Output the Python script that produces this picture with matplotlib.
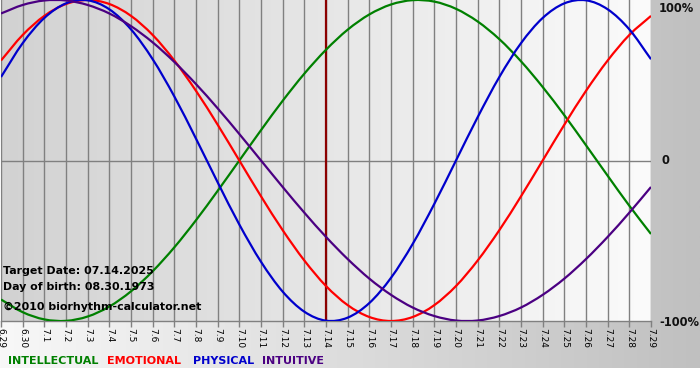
import numpy as np
import matplotlib
matplotlib.use("Agg")
import matplotlib.pyplot as plt
from matplotlib.colors import LinearSegmentedColormap
from matplotlib.path import Path
from matplotlib.patches import PathPatch

# Chart data (one value per day):
day_labels = ['6.29', '6.30'] + ['7.%d' % d for d in range(1, 30)]
target_day = '7.14'

intellectual = [-0.866, -0.945, -0.990, -0.999, -0.972, -0.910, -0.815,
                -0.690, -0.541, -0.372, -0.189, 0.000, 0.189, 0.372, 0.541,
                0.690, 0.815, 0.910, 0.972, 0.999, 0.990, 0.945, 0.866, 0.756,
                0.618, 0.458, 0.282, 0.095, -0.095, -0.282, -0.458]
emotional = [0.623, 0.782, 0.901, 0.975, 1.000, 0.975, 0.901, 0.782, 0.623,
             0.434, 0.223, 0.000, -0.223, -0.434, -0.623, -0.782, -0.901,
             -0.975, -1.000, -0.975, -0.901, -0.782, -0.623, -0.434, -0.223,
             0.000, 0.223, 0.434, 0.623, 0.782, 0.901]
physical = [0.520, 0.731, 0.888, 0.979, 0.998, 0.942, 0.817, 0.631, 0.399,
            0.136, -0.136, -0.399, -0.631, -0.817, -0.942, -0.998, -0.979,
            -0.888, -0.731, -0.520, -0.270, 0.000, 0.270, 0.520, 0.731, 0.888,
            0.979, 0.998, 0.942, 0.817, 0.631]
intuitive = [0.916, 0.969, 0.997, 0.997, 0.969, 0.916, 0.837, 0.736, 0.614,
             0.476, 0.325, 0.165, 0.000, -0.165, -0.325, -0.476, -0.614,
             -0.736, -0.837, -0.916, -0.969, -0.997, -0.997, -0.969, -0.916,
             -0.837, -0.736, -0.614, -0.476, -0.325, -0.165]

series_names = ['INTELLECTUAL', 'EMOTIONAL', 'PHYSICAL', 'INTUITIVE']
series_colors = ['#008000', '#ff0000', '#0000cc', '#4b0082']
y_tick_labels = ['100%', '0', '-100%']

info_lines = ['Target Date: 07.14.2025', 'Day of birth: 08.30.1973',
              '\u00a92010 biorhythm-calculator.net']

# Figure parameters:
W, H = 700, 380
fig = plt.figure(figsize=(W / 100, H / 100), dpi=100)
fig.patch.set_facecolor('white')


def px(x, y):
    return x / W, 1 - y / H


def smooth_path(xs, ys):
    # Bezier path through the data points (Catmull-Rom tangents)
    xs = np.asarray(xs, float)
    ys = np.asarray(ys, float)
    pts = np.column_stack([xs, ys])
    tang = np.gradient(pts, axis=0)
    verts = [pts[0]]
    codes = [Path.MOVETO]
    for i in range(len(pts) - 1):
        verts += [pts[i] + tang[i] / 3, pts[i + 1] - tang[i + 1] / 3,
                  pts[i + 1]]
        codes += [Path.CURVE4] * 3
    return Path(verts, codes)


# Background gradient (white at left -> gray at right), white strip at bottom
ax_bg = fig.add_axes([0, 12 / H, 1, 1 - 12 / H])
ax_bg.set_axis_off()
cmap_bg = LinearSegmentedColormap.from_list('bg', ['#f8f8f8', '#c0c0c0'])
ax_bg.imshow(np.linspace(0, 1, 256)[None, :], cmap=cmap_bg, aspect='auto',
             extent=[0, 1, 0, 1])

# Plot area
left_px, right_px, top_px, bot_px = 1, 651, 0, 321
ax = fig.add_axes([left_px / W, 1 - bot_px / H,
                   (right_px - left_px) / W, (bot_px - top_px) / H])
x = np.arange(len(day_labels))
ax.set_xlim(0, len(day_labels) - 1)
ax.set_ylim(-1, 1)
cmap_plot = LinearSegmentedColormap.from_list('pl', ['#d2d2d2', '#fbfbfb'])
ax.imshow(np.linspace(0, 1, 256)[None, :], cmap=cmap_plot, aspect='auto',
          extent=[0, len(day_labels) - 1, -1, 1], zorder=0)

for xi in x:
    ax.axvline(xi, color='#808080', lw=1.0, zorder=1)
ax.axhline(0, color='#808080', lw=1.0, zorder=1)

ax.axvline(day_labels.index(target_day), color='#8b0000', lw=1.6, zorder=2)

for vals, col in zip([intellectual, emotional, physical, intuitive],
                     series_colors):
    ax.add_patch(PathPatch(smooth_path(x, vals), facecolor='none',
                           edgecolor=col, lw=1.6, zorder=3))

for sp in ['top', 'right', 'left']:
    ax.spines[sp].set_visible(False)
ax.spines['bottom'].set_color('#808080')
ax.spines['bottom'].set_linewidth(1.0)
ax.set_yticks([])
ax.set_xticks(x)
ax.set_xticklabels(day_labels, rotation=-90, fontsize=6.5)
ax.tick_params(axis='x', length=4, width=1.0, color='#808080', pad=1)

# Right-hand percentage labels
for lab, yp in zip(y_tick_labels, [8, 161, 322]):
    fig.text(*px(659 if lab != '0' else 661, yp), lab, fontsize=8.3,
             fontweight='bold', va='center', ha='left', color='#111111')

# Info text on the plot
for line, yp in zip(info_lines, [271, 287, 307]):
    fig.text(*px(3, yp), line, fontsize=7.9, fontweight='bold',
             va='center', ha='left', color='black')

# Legend (coloured words)
for name, col, xp in zip(series_names, series_colors, [8, 107, 193, 262]):
    fig.text(*px(xp, 361), name, fontsize=8, fontweight='bold',
             color=col, va='center', ha='left')

fig.savefig('out.png', dpi=100)
